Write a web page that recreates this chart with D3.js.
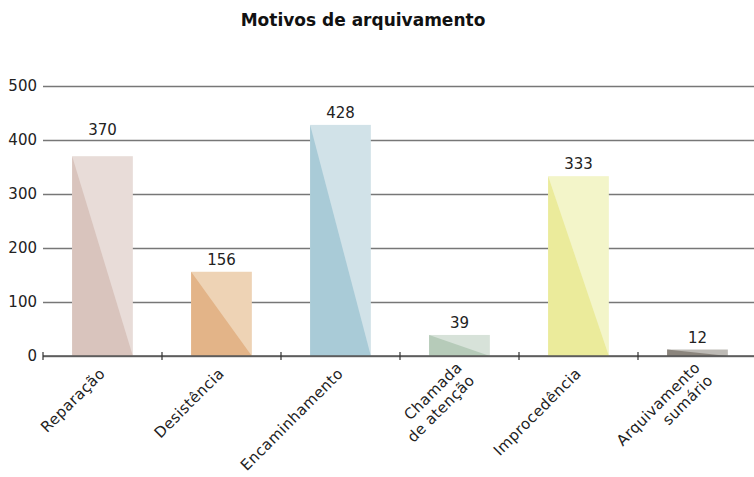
<!DOCTYPE html>
<html>
<head>
<meta charset="utf-8">
<script src="https://cdn.jsdelivr.net/npm/d3@7"></script>
<style>
  body { margin: 0; background: #fff; }
  svg { display: block; font-family: "DejaVu Sans", sans-serif; }
</style>
</head>
<body>
<div id="chart"></div>
<script>
// data
var categories = ["Reparação", "Desistência", "Encaminhamento", "Chamada\nde atenção", "Improcedência", "Arquivamento\nsumário"];
var values = [370, 156, 428, 39, 333, 12];
var yTicks = [0, 100, 200, 300, 400, 500];
var darkColors = ["#d9c4bd", "#e3b488", "#a9cbd7", "#b6cbb9", "#ebeb9b", "#8b857d"];
var lightColors = ["#e8dcd8", "#eed3b5", "#d1e2e8", "#d7e2d9", "#f3f5c9", "#bdbab5"];

var width = 754, height = 477;
var svg = d3.select("#chart").append("svg")
    .attr("width", width)
    .attr("height", height);

var x = d3.scaleBand()
    .domain(categories)
    .range([43, 757])
    .paddingInner(0.49)
    .paddingOuter(0.245);

var y = d3.scaleLinear()
    .domain([0, 500])
    .range([356, 86]);

svg.append("text")
    .attr("x", 363)
    .attr("y", 26)
    .attr("text-anchor", "middle")
    .style("font-size", "17px")
    .style("font-weight", "bold")
    .style("fill", "#111")
    .text("Motivos de arquivamento");

// grid + y labels
var yAxis = svg.append("g")
    .attr("transform", "translate(43,0)")
    .call(d3.axisLeft(y).tickValues(yTicks).tickSize(-(width - 43)).tickPadding(6));
yAxis.select(".domain").remove();
yAxis.selectAll(".tick line").attr("stroke", "#777").attr("stroke-width", 1.5);
yAxis.selectAll(".tick text")
    .style("font-size", "15px")
    .style("fill", "#222")
    .style("font-family", "DejaVu Sans, sans-serif");

// bars
var bars = svg.selectAll(".bar")
    .data(values)
    .enter().append("g")
    .attr("class", "bar");

bars.append("rect")
    .attr("x", function(d, i) { return x(categories[i]); })
    .attr("y", function(d) { return y(d); })
    .attr("width", x.bandwidth())
    .attr("height", function(d) { return y(0) - y(d); })
    .style("fill", function(d, i) { return lightColors[i]; });

bars.append("polygon")
    .attr("points", function(d, i) {
        var x0 = x(categories[i]), x1 = x0 + x.bandwidth();
        return [[x0, y(d)], [x0, y(0)], [x1, y(0)]].join(" ");
    })
    .style("fill", function(d, i) { return darkColors[i]; });

// value labels sit just above the bar, but hop over a gridline they would cross
function labelY(d) {
    var base = y(d) - 7;
    yTicks.forEach(function(t) {
        var g = y(t);
        if (g < base + 1 && g > base - 12) base = g - 5;
    });
    return base;
}

bars.append("text")
    .attr("x", function(d, i) { return x(categories[i]) + x.bandwidth() / 2; })
    .attr("y", labelY)
    .attr("text-anchor", "middle")
    .style("font-size", "15px")
    .style("fill", "#222")
    .text(function(d) { return d; });

// baseline and separator ticks
svg.append("line")
    .attr("x1", 43).attr("x2", width)
    .attr("y1", y(0)).attr("y2", y(0))
    .attr("stroke", "#555").attr("stroke-width", 1.5);

var step = x.step();
svg.selectAll(".sep")
    .data(d3.range(categories.length))
    .enter().append("line")
    .attr("x1", function(i) { return 43 + i * step; })
    .attr("x2", function(i) { return 43 + i * step; })
    .attr("y1", y(0) - 4).attr("y2", y(0) + 4)
    .attr("stroke", "#333").attr("stroke-width", 1.2);

// rotated category labels
var labels = svg.selectAll(".xlabel")
    .data(categories)
    .enter().append("text")
    .attr("class", "xlabel")
    .attr("text-anchor", "end")
    .attr("transform", function(d) {
        var lines = d.split("\n").length;
        return "translate(" + (x(d) + x.bandwidth() / 2 - 4) + "," + (367 - (lines - 1) * 6) + ") rotate(-45)";
    })
    .style("font-size", "15px")
    .style("letter-spacing", "0.4px")
    .style("fill", "#222");

labels.each(function(d) {
    var t = d3.select(this);
    d.split("\n").forEach(function(line, k) {
        t.append("tspan")
            .attr("x", 0)
            .attr("dy", k === 0 ? "0.7em" : "1.2em")
            .text(line);
    });
});
</script>
</body>
</html>
